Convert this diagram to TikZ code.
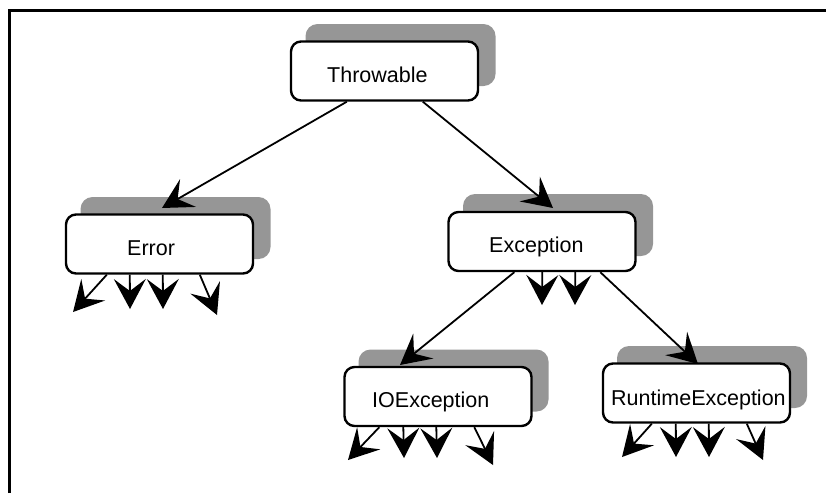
\documentclass[tikz,border=0pt]{standalone}
\usepackage{fontspec}
\setmainfont{Liberation Sans}
\usetikzlibrary{arrows.meta}
\definecolor{shadowgray}{RGB}{150,150,150}
\begin{document}
\begin{tikzpicture}[x=1pt,y=-1pt,
  whitebox/.style={draw=black,line width=2.4pt,fill=white,rounded corners=10pt,
    minimum width=187pt,minimum height=59pt,inner sep=0pt},
  shadowbox/.style={fill=shadowgray,rounded corners=12pt,
    minimum width=190pt,minimum height=62pt,inner sep=0pt},
  lbl/.style={anchor=base west,inner sep=0pt,font=\fontsize{21.5}{25}\selectfont},
  arr/.style={line width=1.8pt,-{Stealth[length=30pt,width=32pt,inset=12pt]}},
  frame/.style={line width=3pt}]
\useasboundingbox (0,0) rectangle (826,493);
% frame
\coordinate (fbl) at (9.5,493);
\coordinate (ftl) at (9.5,10.5);
\coordinate (ftr) at (826,10.5);
\draw[frame] (fbl) -- (ftl) -- (ftr);
% shadows
\node[shadowbox] (thrs) at (400.5,55) {};
\node[shadowbox] (errs) at (175.5,228) {};
\node[shadowbox] (excs) at (558,225) {};
\node[shadowbox] (ioes) at (453.5,380.5) {};
\node[shadowbox] (rtes) at (712,377) {};
% boxes
\node[whitebox] (thr) at (384.5,71) {};
\node[whitebox] (err) at (159.5,244) {};
\node[whitebox] (exc) at (542,241.5) {};
\node[whitebox] (ioe) at (438,396.5) {};
\node[whitebox] (rte) at (696.5,393) {};
% labels
\node[lbl] (thrl) at (327,82) {Throwable};
\node[lbl] (errl) at (127,255) {Error};
\node[lbl] (excl) at (489,252) {Exception};
\node[lbl] (ioel) at (372,407) {IOException};
\node[lbl] (rtel) at (611,405) {RuntimeException};
% main connectors
\coordinate (terr) at (162,208);
\coordinate (texc) at (553,208);
\coordinate (tioe) at (400,365);
\coordinate (trte) at (698,364);
\draw[arr] ([xshift=57pt]thr.south west) -- (terr);
\draw[arr] ([xshift=133pt]thr.south west) -- (texc);
\draw[arr] ([xshift=67pt]exc.south west) -- (tioe);
\draw[arr] ([xshift=153pt]exc.south west) -- (trte);
% stubs under Error
\coordinate (e1) at (73,312);
\coordinate (e2) at (130,309);
\coordinate (e3) at (163,309);
\coordinate (e4) at (217,315);
\draw[arr] ([xshift=42pt]err.south west) -- (e1);
\draw[arr] ([xshift=65pt]err.south west) -- (e2);
\draw[arr] ([xshift=98pt]err.south west) -- (e3);
\draw[arr] ([xshift=135pt]err.south west) -- (e4);
% stubs under Exception
\coordinate (x1) at (542,305);
\coordinate (x2) at (575,305);
\draw[arr] ([xshift=95pt]exc.south west) -- (x1);
\draw[arr] ([xshift=128pt]exc.south west) -- (x2);
% stubs under IOException
\coordinate (i1) at (348,460);
\coordinate (i2) at (404,458);
\coordinate (i3) at (437,458);
\coordinate (i4) at (493,465);
\draw[arr] ([xshift=36pt]ioe.south west) -- (i1);
\draw[arr] ([xshift=60pt]ioe.south west) -- (i2);
\draw[arr] ([xshift=93pt]ioe.south west) -- (i3);
\draw[arr] ([xshift=131pt]ioe.south west) -- (i4);
% stubs under RuntimeException
\coordinate (r1) at (622,457);
\coordinate (r2) at (676,457);
\coordinate (r3) at (709,457);
\coordinate (r4) at (763,460);
\draw[arr] ([xshift=50pt]rte.south west) -- (r1);
\draw[arr] ([xshift=74pt]rte.south west) -- (r2);
\draw[arr] ([xshift=107pt]rte.south west) -- (r3);
\draw[arr] ([xshift=145pt]rte.south west) -- (r4);
\end{tikzpicture}
\end{document}
